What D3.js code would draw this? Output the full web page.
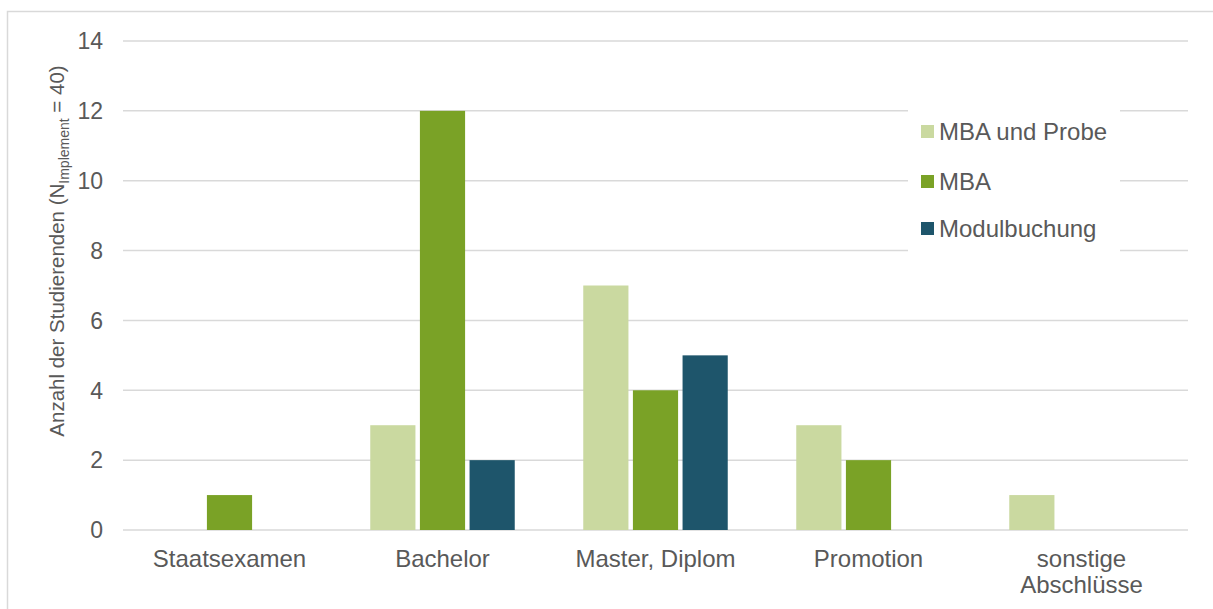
<!DOCTYPE html>
<html>
<head>
<meta charset="utf-8">
<script src="https://d3js.org/d3.v7.min.js"></script>
<style>
  body { margin: 0; background: #fff; }
  svg text { font-family: "Liberation Sans", Arial, sans-serif; fill: #595959; }
</style>
</head>
<body>
<div id="chart"></div>
<script>
// Daten aus dem Diagramm
const categories = ["Staatsexamen", "Bachelor", "Master, Diplom", "Promotion", "sonstige Abschlüsse"];
const seriesNames = ["MBA und Probe", "MBA", "Modulbuchung"];
const mbaProbe = [0, 3, 7, 3, 1];
const mba = [1, 12, 4, 2, 0];
const modulbuchung = [0, 2, 5, 0, 0];
const yTicks = [0, 2, 4, 6, 8, 10, 12, 14];
const colors = ["#cad9a0", "#7aa226", "#1e556b"];

const width = 1213, height = 609;
const margin = { left: 123, right: 25, top: 41, bottom: 79 };

const svg = d3.select("#chart").append("svg")
    .attr("width", width)
    .attr("height", height);

// Rahmen
svg.append("rect")
    .attr("x", 7.5).attr("y", 11.5)
    .attr("width", width).attr("height", height)
    .attr("fill", "none")
    .attr("stroke", "#d9d9d9")
    .attr("stroke-width", 1.5);

const x = d3.scaleBand()
    .domain(categories)
    .range([margin.left, width - margin.right]);

const y = d3.scaleLinear()
    .domain([0, 14])
    .range([height - margin.bottom, margin.top]);

const xInner = d3.scaleBand()
    .domain(seriesNames)
    .range([0, x.bandwidth()])
    .paddingInner(0.09)
    .paddingOuter(0.69);

// Gitterlinien
svg.append("g")
    .selectAll("line")
    .data(yTicks)
    .join("line")
    .attr("x1", margin.left)
    .attr("x2", width - margin.right)
    .attr("y1", d => y(d))
    .attr("y2", d => y(d))
    .attr("stroke", "#d9d9d9")
    .attr("stroke-width", 1.5);

// y-Achse Beschriftung
svg.append("g")
    .selectAll("text")
    .data(yTicks)
    .join("text")
    .attr("x", 103)
    .attr("y", d => y(d))
    .attr("dy", "0.36em")
    .attr("text-anchor", "end")
    .attr("font-size", 23)
    .text(d => d);

// Balken
const allSeries = [mbaProbe, mba, modulbuchung];
seriesNames.forEach((name, si) => {
    svg.append("g")
        .selectAll("rect")
        .data(categories.map((c, i) => ({ c, v: allSeries[si][i] })).filter(d => d.v > 0))
        .join("rect")
        .attr("x", d => x(d.c) + xInner(name))
        .attr("width", xInner.bandwidth())
        .attr("y", d => y(d.v))
        .attr("height", d => y(0) - y(d.v))
        .attr("fill", colors[si]);
});

// Kategorien
const catLabels = svg.append("g")
    .selectAll("text")
    .data(categories)
    .join("text")
    .attr("x", d => x(d) + x.bandwidth() / 2)
    .attr("y", 567)
    .attr("text-anchor", "middle")
    .attr("font-size", 24);
catLabels.each(function (d) {
    const t = d3.select(this);
    const parts = d === "sonstige Abschlüsse" ? ["sonstige", "Abschlüsse"] : [d];
    parts.forEach((p, i) => {
        t.append("tspan")
            .attr("x", x(d) + x.bandwidth() / 2)
            .attr("dy", i === 0 ? 0 : 26)
            .text(p);
    });
});

// Achsentitel
const title = svg.append("text")
    .attr("transform", "translate(64,251) rotate(-90)")
    .attr("text-anchor", "middle")
    .attr("font-size", 20.5);
title.append("tspan").text("Anzahl der Studierenden (N");
title.append("tspan").attr("font-size", 14).attr("dy", 5).text("Implement");
title.append("tspan").attr("dy", -5).text(" = 40)");

// Legende
const legend = svg.append("g");
legend.append("rect")
    .attr("x", 908).attr("y", 104)
    .attr("width", 212).attr("height", 148)
    .attr("fill", "#fff");
const legendY = [131, 181, 228];
seriesNames.forEach((name, i) => {
    legend.append("rect")
        .attr("x", 921).attr("y", legendY[i] - 6)
        .attr("width", 13).attr("height", 13)
        .attr("fill", colors[i]);
    legend.append("text")
        .attr("x", 939).attr("y", legendY[i])
        .attr("dy", "0.36em")
        .attr("font-size", 24)
        .text(name);
});
</script>
</body>
</html>
